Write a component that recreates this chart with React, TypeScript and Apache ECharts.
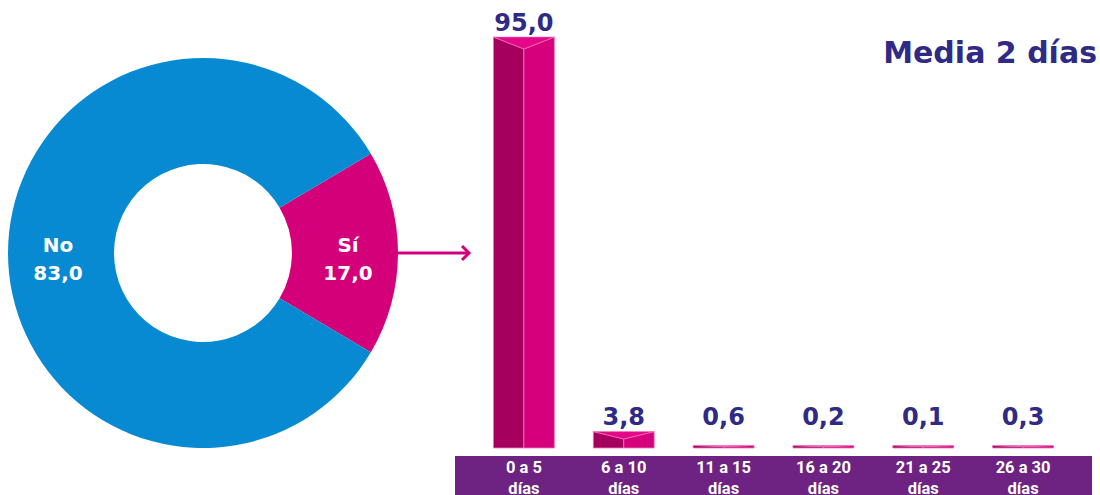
import React, { useEffect, useRef } from "react";
import * as echarts from "echarts";

const pieNames = ["Sí", "No"];
const pieValues = [17.0, 83.0];
const pieColors = ["#D4007A", "#078AD1"];

const barCategories = ["0 a 5\ndías", "6 a 10\ndías", "11 a 15\ndías", "16 a 20\ndías", "21 a 25\ndías", "26 a 30\ndías"];
const barValues = [95.0, 3.8, 0.6, 0.2, 0.1, 0.3];

const titleText = "Media 2 días";

const fmt = (v: number) => v.toFixed(1).replace(".", ",");

export default function App() {
  const ref = useRef<HTMLDivElement>(null);
  useEffect(() => {
    document.body.style.margin = "0";
    if (!ref.current) return;
    const chart = echarts.init(ref.current, undefined, { renderer: "svg" });
    const labelColor = "#2F2A85";
    chart.setOption({
      animation: false,
      grid: { left: 474, right: 27, top: 37, bottom: 47, outerBoundsMode: "none", containLabel: false },
      xAxis: {
        type: "category",
        data: barCategories,
        axisLine: { show: false },
        axisTick: { show: false },
        axisLabel: {
          color: "#FFFFFF",
          fontFamily: "Roboto",
          fontWeight: "bold",
          fontSize: 16.5,
          lineHeight: 21,
          margin: 9,
        },
      },
      yAxis: { type: "value", min: 0, max: 95, show: false },
      graphic: [
        { type: "rect", z: -1, shape: { x: 455, y: 456, width: 637, height: 39 }, style: { fill: "#6E2282" } },
        {
          type: "text",
          x: 1097,
          y: 52,
          style: {
            text: titleText,
            fill: labelColor,
            font: "bold 30px 'DejaVu Sans'",
            textAlign: "right",
            textVerticalAlign: "middle",
          },
        },
        { type: "line", shape: { x1: 398, y1: 253, x2: 469, y2: 253 }, style: { stroke: "#D4007A", lineWidth: 3 } },
        {
          type: "polyline",
          shape: { points: [[462, 246], [469, 253], [462, 260]] },
          style: { stroke: "#D4007A", lineWidth: 3, fill: "none" },
        },
      ],
      series: [
        {
          type: "pie",
          center: [203, 253],
          radius: [89, 195],
          startAngle: 30.6,
          clockwise: true,
          silent: true,
          data: pieNames.map((n, i) => ({ name: n, value: pieValues[i], itemStyle: { color: pieColors[i] } })),
          label: {
            show: true,
            position: "inside",
            formatter: (p: any) => `${p.name}\n${fmt(p.value)}`,
            color: "#FFFFFF",
            fontFamily: "DejaVu Sans",
            fontWeight: "bold",
            fontSize: 20,
            lineHeight: 28,
            offset: [0, 6],
          },
          labelLine: { show: false },
        },
        {
          type: "custom",
          data: barValues.map((v, i) => [i, v]),
          renderItem: (params: any, api: any) => {
            const idx = api.value(0);
            const v = api.value(1);
            const top = api.coord([idx, v]);
            const base = api.coord([idx, 0]);
            const bw = api.size([1, 0])[0] * 0.61;
            const xc = top[0];
            const x0 = xc - bw / 2;
            const x1 = xc + bw / 2;
            const yB = base[1];
            const yT = Math.min(top[1], yB - 2.5);
            const h = yB - yT;
            const d = Math.min(12, h * 0.45);
            const labelY = Math.min(yT, yB - 17) - 2;
            return {
              type: "group",
              children: [
                {
                  type: "polygon",
                  shape: { points: [[x0, yT], [xc, yT + d], [xc, yB], [x0, yB]] },
                  style: { fill: "#A6005E", stroke: "#E77BB6", lineWidth: 0.8 },
                },
                {
                  type: "polygon",
                  shape: { points: [[xc, yT + d], [x1, yT], [x1, yB], [xc, yB]] },
                  style: { fill: "#D6007C", stroke: "#E77BB6", lineWidth: 0.8 },
                },
                {
                  type: "polygon",
                  shape: { points: [[x0, yT], [x1, yT], [xc, yT + d]] },
                  style: { fill: "#E5078A", stroke: "#EE7DBD", lineWidth: 0.6 },
                },
                {
                  type: "text",
                  style: {
                    text: fmt(v),
                    x: xc,
                    y: labelY,
                    textAlign: "center",
                    textVerticalAlign: "bottom",
                    fill: labelColor,
                    font: "bold 24px 'DejaVu Sans'",
                  },
                },
              ],
            };
          },
        },
      ],
    });
    return () => chart.dispose();
  }, []);
  return <div ref={ref} style={{ width: 1100, height: 495 }} />;
}
